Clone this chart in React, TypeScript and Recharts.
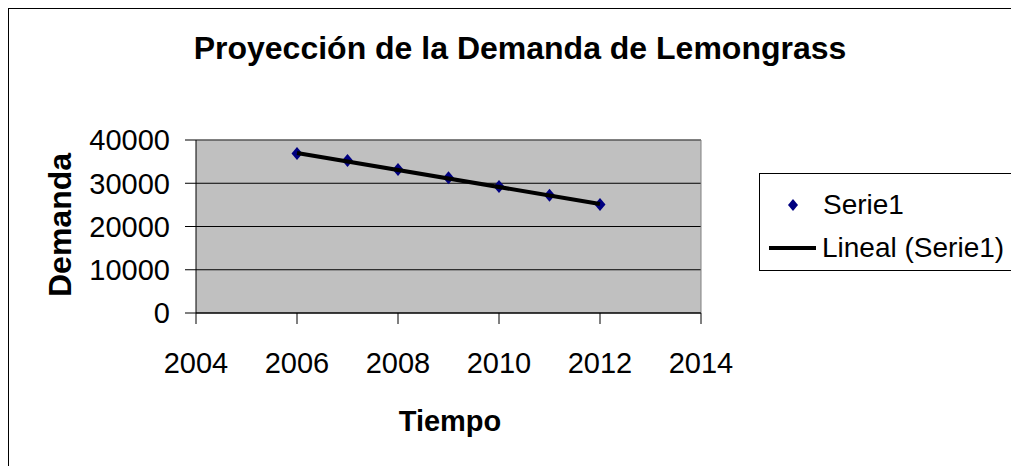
import React from 'react'
import {
  ScatterChart,
  Scatter,
  XAxis,
  YAxis,
  CartesianGrid,
  ReferenceLine,
  Legend,
} from 'recharts'

const YEARS = [2006, 2007, 2008, 2009, 2010, 2011, 2012]
const DEMAND = [36900, 35250, 33200, 31250, 29250, 27200, 25100]

// Excel's linear trendline at both ends
const TREND_YEARS = [2006, 2012]
const TREND_VALUES = [37000, 25200]

const X_TICKS = [2004, 2006, 2008, 2010, 2012, 2014]
const Y_TICKS = [0, 10000, 20000, 30000, 40000]

const FONT = '"Liberation Sans", Arial, sans-serif'
const NAVY = '#000080'

const points = YEARS.map((year, i) => ({ x: year, y: DEMAND[i] }))
const trend = TREND_YEARS.map((year, i) => ({ x: year, y: TREND_VALUES[i] }))

const Diamond = (props: any) => {
  const { cx, cy } = props
  if (cx == null || cy == null) return <g />
  return (
    <polygon
      points={`${cx},${cy - 6.5} ${cx + 5.5},${cy} ${cx},${cy + 6.5} ${cx - 5.5},${cy}`}
      fill={NAVY}
    />
  )
}

const NoDot = () => <g />

// the legend box runs off the right edge of the picture in the original
const LegendBox = () => (
  <div
    style={{
      position: 'relative',
      width: 260,
      height: 96,
      borderTop: '1px solid #000',
      borderLeft: '1px solid #000',
      borderBottom: '1px solid #000',
      background: '#fff',
      fontFamily: FONT,
      fontSize: 28,
      color: '#000',
    }}
  >
    <svg width={60} height={96} style={{ position: 'absolute', left: 0, top: 0 }}>
      <polygon points="33,25 38,31 33,37 28,31" fill={NAVY} />
      <line x1={9} y1={74} x2={56} y2={74} stroke="#000" strokeWidth={4} />
    </svg>
    <div style={{ position: 'absolute', left: 63, top: 15, lineHeight: '32px' }}>Serie1</div>
    <div style={{ position: 'absolute', left: 62, top: 58, lineHeight: '32px', whiteSpace: 'nowrap' }}>
      Lineal (Serie1)
    </div>
  </div>
)

export default function App() {
  return (
    <div
      style={{
        position: 'relative',
        width: 1010,
        height: 465,
        marginBottom: -8,
        borderTop: '1px solid #000',
        borderLeft: '1px solid #000',
        background: '#fff',
        fontFamily: FONT,
      }}
    >
      <ScatterChart
        width={1010}
        height={465}
        margin={{ top: 131, right: 318, bottom: 101, left: 0 }}
      >
        <CartesianGrid
          fill="#C0C0C0"
          fillOpacity={1}
          stroke="#000"
          vertical={false}
          horizontal={true}
        />
        <XAxis
          type="number"
          dataKey="x"
          domain={[2004, 2014]}
          ticks={X_TICKS}
          height={60}
          axisLine={{ stroke: '#000' }}
          tickLine={{ stroke: '#000' }}
          tickSize={11}
          tickMargin={28}
          tick={{ fontSize: 29, fill: '#000', fontFamily: FONT }}
          interval={0}
        />
        <YAxis
          type="number"
          dataKey="y"
          domain={[0, 40000]}
          ticks={Y_TICKS}
          width={187}
          axisLine={{ stroke: '#000' }}
          tickLine={{ stroke: '#000' }}
          tickSize={11}
          tickMargin={15}
          tick={{ fontSize: 29, fill: '#000', fontFamily: FONT }}
          interval={0}
        />
        <ReferenceLine y={40000} stroke="#808080" strokeWidth={1} />
        <ReferenceLine x={2014} stroke="#808080" strokeWidth={1} />
        <Scatter
          name="Serie1"
          data={points}
          shape={Diamond}
          isAnimationActive={false}
        />
        <Scatter
          name="Lineal (Serie1)"
          data={trend}
          line={{ stroke: '#000', strokeWidth: 4 }}
          shape={NoDot}
          legendType="none"
          isAnimationActive={false}
        />
        <Legend
          layout="horizontal"
          align="center"
          verticalAlign="middle"
          wrapperStyle={{ left: 750, top: 164, width: 260 }}
          content={<LegendBox />}
        />
      </ScatterChart>

      <div
        style={{
          position: 'absolute',
          left: 111,
          top: 23,
          width: 800,
          textAlign: 'center',
          fontSize: 32,
          fontWeight: 'bold',
          lineHeight: '32px',
          whiteSpace: 'nowrap',
        }}
      >
        Proyección de la Demanda de Lemongrass
      </div>
      <div
        style={{
          position: 'absolute',
          left: 50.5,
          top: 216,
          transform: 'translate(-50%, -50%) rotate(-90deg)',
          fontSize: 32,
          fontWeight: 'bold',
          lineHeight: '32px',
          whiteSpace: 'nowrap',
        }}
      >
        Demanda
      </div>
      <div
        style={{
          position: 'absolute',
          left: 341,
          top: 398,
          width: 200,
          textAlign: 'center',
          fontSize: 29,
          fontWeight: 'bold',
          lineHeight: '29px',
        }}
      >
        Tiempo
      </div>
    </div>
  )
}
